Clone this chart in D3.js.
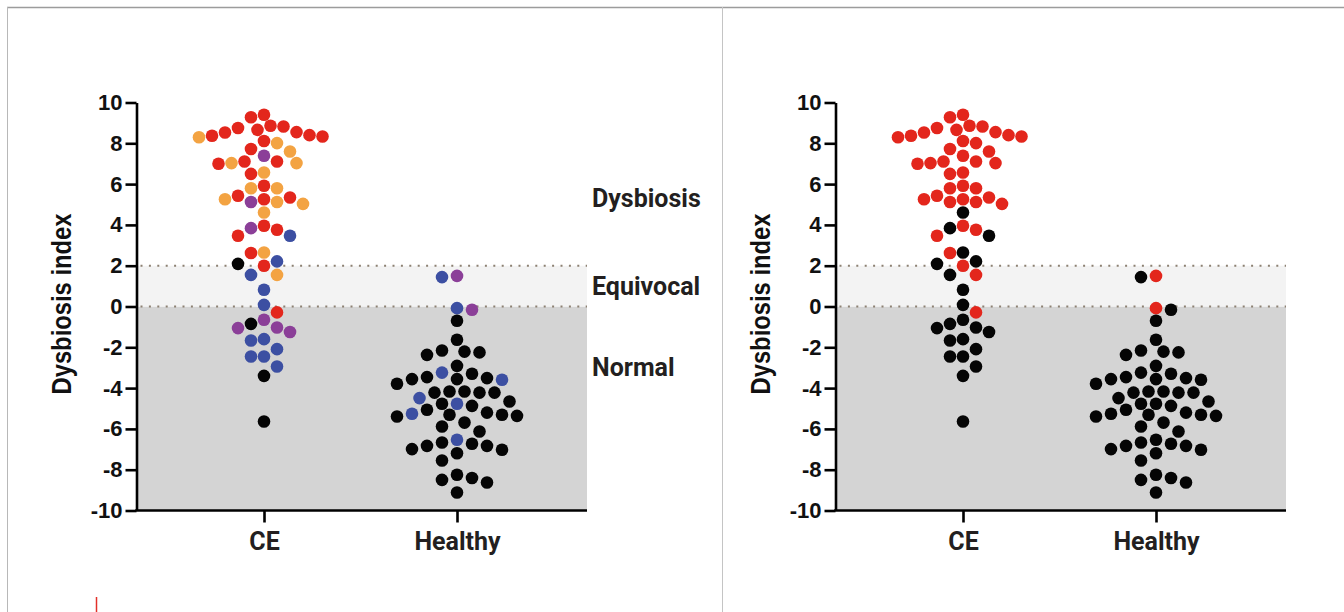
<!DOCTYPE html>
<html>
<head>
<meta charset="utf-8">
<script src="https://cdn.jsdelivr.net/npm/d3@7"></script>
<style>
  body { margin: 0; background: #fff; }
  svg { display: block; }
</style>
</head>
<body>
<div id="chart"></div>
<script>
// groups on the x axis
const groups = ["CE", "Healthy"];
const yTicks = [10, 8, 6, 4, 2, 0, -2, -4, -6, -8, -10];
const zoneNames = ["Dysbiosis", "Equivocal", "Normal"];
const zoneCentres = [5.3, 1, -3];

// CE group, dysbiosis index of every patient
const ceValues = [
  9.40, 9.28,
  8.86, 8.33, 8.37, 8.53, 8.30, 8.82, 8.55, 8.75, 8.40, 8.66,
  8.01, 8.11,
  7.72, 7.60, 7.39,
  7.11, 7.11, 7.00, 7.03, 7.03,
  6.50, 6.57,
  5.80, 5.92, 5.80,
  5.12, 5.26, 5.26, 5.43, 5.34, 5.12, 5.03,
  4.61,
  3.76, 3.47, 3.84, 3.47, 3.96,
  2.62, 2.65,
  2.09, 2.00, 2.21,
  1.55, 1.55,
  0.82,
  0.08,
  -0.29,
  -0.85, -1.25, -1.06, -1.03, -0.65,
  -1.67, -1.60,
  -2.09, -2.45, -2.45,
  -2.94,
  -3.40,
  -5.64
];
// colour class of each CE point, left chart (r red, o orange, p purple, b blue, k black)
const ceClassLeft = [
  "r", "r",
  "r", "r", "r", "r", "o", "r", "r", "r", "r", "r",
  "o", "r",
  "r", "o", "p",
  "r", "r", "r", "o", "o",
  "r", "o",
  "o", "r", "o",
  "o", "r", "o", "r", "r", "p", "o",
  "o",
  "r", "r", "p", "b", "r",
  "r", "o",
  "k", "r", "b",
  "o", "b",
  "b",
  "b",
  "r",
  "k", "p", "p", "p", "p",
  "b", "b",
  "b", "b", "b",
  "b",
  "k",
  "k"
];
// right chart: red or black only
const ceClassRight = [
  "r", "r",
  "r", "r", "r", "r", "r", "r", "r", "r", "r", "r",
  "r", "r",
  "r", "r", "r",
  "r", "r", "r", "r", "r",
  "r", "r",
  "r", "r", "r",
  "r", "r", "r", "r", "r", "r", "r",
  "k",
  "r", "r", "k", "k", "r",
  "r", "k",
  "k", "r", "k",
  "r", "k",
  "k",
  "k",
  "r",
  "k", "k", "k", "k", "k",
  "k", "k",
  "k", "k", "k",
  "k",
  "k",
  "k"
];

// Healthy group
const healthyValues = [
  1.50, 1.44,
  -0.08, -0.16,
  -0.70,
  -1.63,
  -2.16, -2.25, -2.37, -2.21,
  -2.91,
  -3.59, -3.56, -3.56, -3.51, -3.24, -3.79, -3.30, -3.46,
  -4.22, -4.17, -4.49, -4.22, -4.66, -4.17, -4.22,
  -4.77, -4.87, -5.20, -5.06, -5.26, -4.77,
  -5.36, -5.31, -5.88, -6.13, -5.69, -5.39, -5.31,
  -6.53, -7.19, -6.83, -6.73, -7.02, -6.99, -6.83, -6.67,
  -7.55,
  -8.50, -8.25, -8.63, -8.41,
  -9.12
];
const healthyClassLeft = [
  "p", "b",
  "b", "p",
  "k",
  "k",
  "k", "k", "k", "k",
  "k",
  "b", "k", "k", "k", "b", "k", "k", "k",
  "k", "k", "b", "k", "k", "k", "k",
  "b", "k", "k", "k", "b", "k",
  "k", "k", "k", "k", "k", "k", "k",
  "b", "k", "k", "k", "k", "k", "k", "k",
  "k",
  "k", "k", "k", "k",
  "k"
];
const healthyClassRight = healthyValues.map((v, i) => (i === 0 || i === 2) ? "r" : "k");

const colour = d3.scaleOrdinal()
  .domain(["r", "o", "p", "b", "k"])
  .range(["#e3261c", "#f3a342", "#8b3f98", "#3c4fa2", "#050505"]);

const width = 1344, height = 612;
const svg = d3.select("#chart").append("svg")
  .attr("width", width)
  .attr("height", height);

// frame lines around the two panels
svg.append("line").attr("x1", 7).attr("x2", width).attr("y1", 7.5).attr("y2", 7.5)
  .attr("stroke", "#9c9c9c").attr("stroke-width", 1.5);
svg.append("line").attr("x1", 7.5).attr("x2", 7.5).attr("y1", 7).attr("y2", height)
  .attr("stroke", "#b8b8b8").attr("stroke-width", 1);
svg.append("line").attr("x1", 722.5).attr("x2", 722.5).attr("y1", 7).attr("y2", height)
  .attr("stroke", "#c4c4c4").attr("stroke-width", 1);
svg.append("line").attr("x1", 96.5).attr("x2", 96.5).attr("y1", 597).attr("y2", height)
  .attr("stroke", "#e2302a").attr("stroke-width", 1.5);

const y = d3.scaleLinear().domain([-10, 10]).range([510.5, 102.5]);
const dotR = 6.3;

// simple swarm: points placed from the top, each at the free slot closest to the centre
function swarm(values, stepX) {
  const order = d3.range(values.length).sort((a, b) => values[b] - values[a]);
  const placed = [];
  const xs = new Array(values.length);
  const ay = dotR * 2;
  let side = -1;
  for (const i of order) {
    const py = y(values[i]);
    let best = null;
    for (let k = 0; k < 40 && best === null; k++) {
      const cands = k === 0 ? [0] : [side * k * stepX / 2, -side * k * stepX / 2];
      for (const dx of cands) {
        const ok = placed.every(p => {
          const ex = (p.x - dx) / stepX, ey = (p.y - py) / ay;
          return ex * ex + ey * ey >= 0.999;
        });
        if (ok) { best = dx; break; }
      }
    }
    if (best !== 0) side = -side;
    xs[i] = best;
    placed.push({x: best, y: py});
  }
  return xs;
}

const ceOffsets = swarm(ceValues, 13);
const healthyOffsets = swarm(healthyValues, 15);

function drawPanel(ox, ceClass, healthyClass, withZones) {
  const g = svg.append("g").attr("transform", "translate(" + ox + ",0)");
  const x0 = 136.5, x1 = 587;
  const x = d3.scalePoint().domain(groups).range([264, 457]);

  // shaded zones
  g.append("rect")
    .attr("x", x0).attr("width", x1 - x0)
    .attr("y", y(0)).attr("height", y(-10) - y(0))
    .attr("fill", "#d4d4d4");
  g.append("rect")
    .attr("x", x0).attr("width", x1 - x0)
    .attr("y", y(2)).attr("height", y(0) - y(2))
    .attr("fill", "#f3f3f3");

  [0, 2].forEach(v => {
    g.append("line")
      .attr("x1", x0 + 4).attr("x2", x1)
      .attr("y1", y(v)).attr("y2", y(v))
      .attr("stroke", "#8c8072")
      .attr("stroke-width", 2)
      .attr("stroke-dasharray", "2 6.4");
  });

  // dots
  const pts = [];
  ceValues.forEach((v, i) => pts.push({g: "CE", v: v, dx: ceOffsets[i], c: ceClass[i]}));
  healthyValues.forEach((v, i) => pts.push({g: "Healthy", v: v, dx: healthyOffsets[i], c: healthyClass[i]}));
  g.selectAll("circle.pt").data(pts).enter().append("circle")
    .attr("class", "pt")
    .attr("cx", d => x(d.g) + d.dx)
    .attr("cy", d => y(d.v))
    .attr("r", dotR)
    .attr("fill", d => colour(d.c));

  // y axis
  const yAxis = g.append("g")
    .attr("transform", "translate(" + x0 + ",0)")
    .call(d3.axisLeft(y).tickValues(yTicks).tickSize(11).tickSizeOuter(0).tickPadding(3)
      .tickFormat(d => String(d)));
  yAxis.select(".domain").attr("stroke-width", 2.6).attr("stroke", "#000");
  yAxis.selectAll(".tick line").attr("stroke-width", 2.6);
  yAxis.selectAll(".tick text")
    .attr("font-family", "'Liberation Sans', Arial, sans-serif")
    .attr("font-weight", "bold")
    .attr("font-size", 22)
    .attr("fill", "#111");

  // x axis
  const xAxis = g.append("g")
    .attr("transform", "translate(0," + y(-10) + ")")
    .call(d3.axisBottom(x).tickSize(12).tickSizeOuter(0).tickPadding(10));
  xAxis.select(".domain").remove();
  xAxis.selectAll(".tick line").attr("stroke-width", 2.6);
  xAxis.selectAll(".tick text")
    .attr("font-family", "Roboto, 'Open Sans', sans-serif")
    .attr("font-weight", "bold")
    .attr("font-size", 25)
    .attr("fill", "#231f20");
  g.append("line")
    .attr("x1", x0 - 1.3).attr("x2", x1)
    .attr("y1", y(-10)).attr("y2", y(-10))
    .attr("stroke", "#000").attr("stroke-width", 2.6);

  // y axis title
  g.append("text")
    .attr("transform", "translate(70.5," + 304 + ") rotate(-90)")
    .attr("text-anchor", "middle")
    .attr("font-family", "'Liberation Sans', Arial, sans-serif")
    .attr("font-weight", "bold")
    .attr("font-size", 27)
    .attr("textLength", 181)
    .attr("lengthAdjust", "spacingAndGlyphs")
    .attr("fill", "#111")
    .text("Dysbiosis index");

  if (withZones) {
    zoneNames.forEach((name, i) => {
      g.append("text")
        .attr("x", 592)
        .attr("y", y(zoneCentres[i]) + 8.5)
        .attr("font-family", "Roboto, 'Open Sans', sans-serif")
        .attr("font-weight", "bold")
        .attr("font-size", 25)
        .attr("fill", "#231f20")
        .text(name);
    });
  }
}

drawPanel(0, ceClassLeft, healthyClassLeft, true);
drawPanel(699, ceClassRight, healthyClassRight, false);
</script>
</body>
</html>
